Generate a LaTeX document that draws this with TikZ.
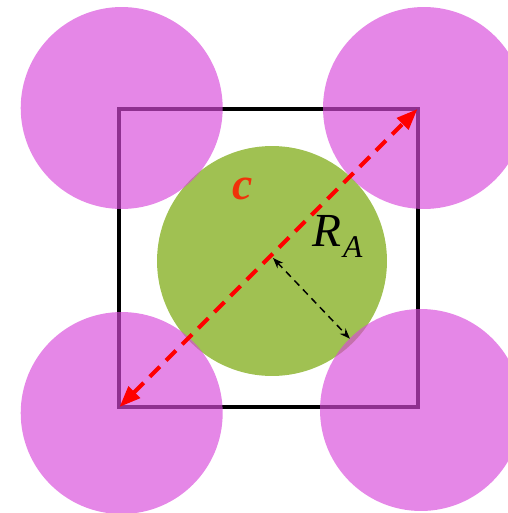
\documentclass[tikz,border=0pt]{standalone}
\usepackage{fontspec}
\setmainfont{Liberation Serif}
\usetikzlibrary{positioning,arrows.meta}

\definecolor{verdeA}{RGB}{160,193,82}
\definecolor{magentaB}{RGB}{216,73,218}
\definecolor{rojoC}{RGB}{240,50,10}

\begin{document}
\begin{tikzpicture}[
    x=0.02cm, y=-0.02cm,
    celda/.style={
        draw,
        line width=0.08cm,
        minimum size=5.98cm,
        inner sep=0pt
    },
    atomoA/.style={
        circle,
        fill=verdeA,
        minimum size=4.6cm,
        inner sep=0pt
    },
    atomoB/.style={
        circle,
        fill=magentaB,
        fill opacity=0.66,
        minimum size=4.04cm,
        inner sep=0pt
    },
    etiqueta/.style={
        inner sep=0pt,
        font=\fontsize{27}{32}\selectfont\itshape
    }
]
\useasboundingbox (0,0) rectangle (507,513);

\node[celda] (cubo) at (268.5,258) {};

\node[atomoA] (centro) at (272,261) {};

\node[atomoB] (esqNO) at (121.7,108) {};
\node[atomoB] (esqNE) at (424,108) {};
\node[atomoB] (esqSO) at (121.7,413) {};
\node[atomoB] (esqSE) at (421,410) {};

\draw[red, line width=0.08cm, dash pattern=on 8pt off 5pt,
      {Triangle[length=12pt,width=9pt]}-{Triangle[length=12pt,width=9pt]},
      shorten <=2pt, shorten >=2pt]
    (cubo.south west) -- (cubo.north east);

\draw[line width=0.85pt, dash pattern=on 4pt off 3pt,
      {Stealth[length=6pt,width=4.5pt]}-{Stealth[length=6pt,width=4.5pt]},
      shorten >=3pt]
    ([shift={(1,-3)}]centro.center) -- (centro.-45);

\node[etiqueta, text=rojoC, font=\fontsize{26}{30}\selectfont\bfseries\itshape,
      anchor=base] (c) at (243,199) {c};
\node[etiqueta, anchor=base west] (radio) at (312,246)
    {R\kern1pt\raisebox{-6.8pt}{\fontsize{18}{20}\selectfont A}};

\end{tikzpicture}
\end{document}
